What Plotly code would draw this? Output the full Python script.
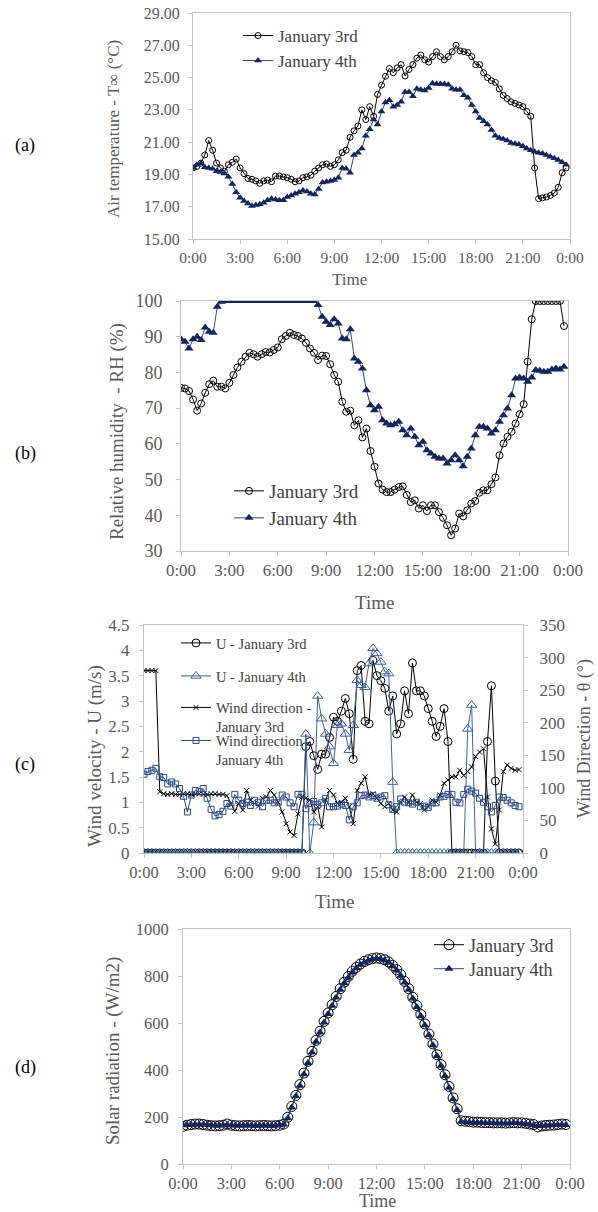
import plotly.graph_objects as go

# ---------------- data (15-minute readings, 0:00 to 23:45) ----------------
hours = [i * 0.25 for i in range(96)]
tick_hours = [0, 3, 6, 9, 12, 15, 18, 21, 24]
tick_text = ["0:00", "3:00", "6:00", "9:00", "12:00", "15:00", "18:00", "21:00", "0:00"]

temp_jan3 = [
    19.4, 19.5, 19.7, 20.2, 21.1, 20.5, 19.7, 19.4, 19.2, 19.6, 19.75, 19.95,
    19.4, 19.05, 18.75, 18.7, 18.6, 18.45, 18.6, 18.65, 18.55, 18.9, 18.9, 18.85,
    18.8, 18.7, 18.55, 18.6, 18.8, 18.85, 18.95, 19.2, 19.4, 19.6, 19.65, 19.5,
    19.6, 19.9, 20.35, 20.5, 21.3, 21.7, 22.0, 23.0, 22.4, 23.2, 22.6, 23.96,
    24.53, 25.08, 25.56, 25.3, 25.6, 25.8, 25.1, 25.5, 25.8, 26.2, 26.4, 26.1,
    25.96, 26.3, 26.6, 26.3, 26.1, 26.3, 26.6, 27.0, 26.65, 26.6, 26.55, 26.3,
    25.8, 25.8, 25.3, 25.0, 24.8, 24.7, 24.3, 23.9, 23.7, 23.5, 23.4, 23.3,
    23.2, 22.9, 22.6, 19.4, 17.5, 17.55, 17.6, 17.7, 17.85, 18.2, 19.1, 19.4]
temp_jan4 = [
    19.4, 19.6, 19.7, 19.45, 19.4, 19.35, 19.2, 19.15, 19.05, 18.85, 18.4, 17.9,
    17.55, 17.35, 17.2, 17.05, 17.1, 17.15, 17.25, 17.4, 17.5, 17.45, 17.4, 17.4,
    17.6, 17.7, 17.8, 17.9, 18.0, 17.95, 17.8, 17.75, 18.1, 18.5, 18.55, 18.6,
    18.65, 18.8, 19.4, 19.35, 19.1, 20.2, 20.35, 20.6, 21.4, 21.8, 22.4, 22.1,
    22.9, 23.45, 23.6, 23.2, 23.3, 23.5, 24.1, 24.1, 23.85, 24.3, 24.25, 24.2,
    24.35, 24.65, 24.6, 24.6, 24.6, 24.55, 24.3, 24.25, 24.25, 23.9, 23.75, 23.3,
    22.9, 22.5, 22.3, 22.1, 21.75, 21.4, 21.25, 21.2, 21.1, 20.95, 20.9, 20.85,
    20.75, 20.6, 20.5, 20.4, 20.35, 20.3, 20.2, 20.1, 20.0, 19.9, 19.75, 19.6]

rh_jan3 = [
    75.7, 75.5, 74.8, 72.4, 69.3, 71.3, 74.3, 76.7, 77.7, 76.0, 76.0, 75.5,
    77.1, 79.3, 81.4, 83.0, 84.4, 85.5, 85.1, 84.4, 85.1, 85.7, 85.6, 86.3,
    87.0, 89.3, 90.2, 91.1, 90.5, 90.2, 89.5, 88.3, 86.7, 85.5, 83.5, 84.7,
    84.6, 82.3, 79.3, 77.4, 71.8, 69.0, 69.3, 65.2, 66.6, 61.8, 64.3, 58.0,
    53.6, 48.9, 47.2, 46.5, 46.5, 47.2, 47.9, 48.1, 45.7, 43.7, 44.2, 41.9,
    42.8, 41.2, 42.8, 42.8, 40.9, 39.3, 37.2, 34.4, 36.3, 40.5, 39.7, 41.4,
    43.3, 44.0, 46.3, 47.0, 47.0, 48.7, 50.6, 56.8, 60.1, 62.0, 63.4, 65.7,
    68.3, 71.1, 83.0, 94.9, 100, 100, 100, 100, 100, 100, 100, 93.0]
rh_jan4 = [
    89.3, 88.6, 86.7, 89.3, 90.0, 89.1, 92.6, 91.4, 91.1, 98.4, 99.8, 100,
    100, 100, 100, 100, 100, 100, 100, 100, 100, 100, 100, 100,
    100, 100, 100, 100, 100, 100, 100, 100, 100, 100, 98.9, 95.6,
    94.2, 93.3, 94.9, 93.7, 89.5, 89.3, 92.1, 83.9, 83.0, 81.1, 75.0, 70.8,
    69.4, 70.4, 66.6, 65.7, 65.2, 65.5, 66.2, 63.8, 62.4, 64.3, 62.0, 59.6,
    60.6, 58.2, 57.3, 56.4, 55.9, 55.9, 54.5, 55.4, 56.8, 55.4, 53.7, 56.4,
    58.7, 62.4, 64.8, 64.8, 64.3, 62.9, 63.8, 66.2, 68.0, 69.9, 73.6, 78.3,
    78.6, 78.3, 77.4, 78.6, 80.7, 80.5, 80.2, 80.2, 80.8, 81.1, 80.8, 81.6]

u_jan3 = [
    0, 0, 0, 0, 0, 0, 0, 0, 0, 0, 0, 0,
    0, 0, 0, 0, 0, 0, 0, 0, 0, 0, 0, 0,
    0, 0, 0, 0, 0, 0, 0, 0, 0, 0, 0, 0,
    0, 0, 0, 0, 0, 2.1, 2.2, 1.92, 1.65, 1.95, 1.95, 2.28,
    2.68, 2.6, 2.8, 3.05, 2.75, 1.85, 3.6, 3.7, 2.6, 2.55, 3.8, 3.5,
    3.4, 3.25, 2.8, 3.1, 2.35, 2.55, 3.2, 2.75, 3.75, 3.2, 3.2, 3.1,
    2.85, 2.6, 2.3, 2.5, 2.85, 2.2, 0, 0, 0, 0, 0, 0,
    0, 0, 0, 2.2, 3.3, 1.42, 0, 0, 0, 0, 0, 0]
u_jan4 = [
    0, 0, 0, 0, 0, 0, 0, 0, 0, 0, 0, 0,
    0, 0, 0, 0, 0, 0, 0, 0, 0, 0, 0, 0,
    0, 0, 0, 0, 0, 0, 0, 0, 0, 0, 0, 0,
    0, 0, 0, 0, 0, 2.35, 0, 0.6, 3.1, 2.65, 2.35, 2.1,
    1.77, 2.52, 2.55, 2.35, 2.03, 2.52, 3.41, 3.31, 3.27, 3.74, 4.04, 3.94,
    3.77, 3.58, 3.54, 1.4, 0, 0, 0, 0, 0, 0, 0, 0,
    0, 0, 0, 0, 0, 0, 0, 0, 0, 0, 2.45, 2.92,
    0, 0, 0, 0, 0, 0, 0, 0, 0, 0, 0, 0]

wd_jan3 = [
    280, 280, 280, 280, 94, 91, 90, 91, 90, 90, 91, 91,
    90, 91, 91, 90, 90, 91, 91, 90, 90, 88, 76, 64,
    76, 66, 96, 81, 76, 72, 84, 86, 96, 89, 78, 63,
    45, 32, 27, 60, 86, 84, 81, 63, 71, 40, 81, 96,
    89, 76, 78, 84, 71, 45, 96, 107, 117, 89, 91, 84,
    76, 71, 76, 66, 63, 78, 86, 78, 89, 78, 76, 66,
    71, 81, 78, 89, 107, 112, 117, 117, 127, 119, 125, 132,
    148, 155, 160, 86, 37, 14, 66, 125, 135, 130, 127, 128]
wd_jan4 = [
    121, 125, 127, 130, 117, 116, 106, 109, 106, 99,
    87, 63, 89, 96, 94, 99, 84, 67, 57, 59,
    64, 76, 72, 90, 81, 76, 78, 73, 81, 78,
    71, 81, 81, 77, 78, 89, 86, 77, 71, 90,
    90, 68, 76, 79, 74, 77, 84, 71, 71, 72,
    75, 73, 51, 71, 77, 88, 89, 86, 88, 84,
    86, 88, 74, 67, 71, 83, 78, 77, 75, 78,
    71, 72, 70, 77, 77, 86, 87, 90, 90, 78,
    77, 90, 98, 95, 92, 84, 78, 71, 63, 73,
    86, 85, 81, 77, 73, 71]

sr_jan3 = [
    160, 165, 168, 170, 170, 168, 165, 163, 162, 163, 165, 170,
    165, 163, 162, 163, 164, 163, 162, 163, 164, 163, 162, 163,
    165, 170, 199, 245, 292, 338, 387, 437, 479, 526, 565, 607,
    643, 678, 713, 746, 774, 798, 820, 837, 851, 862, 869, 874,
    877, 874, 869, 860, 845, 827, 806, 777, 746, 709, 674, 636,
    596, 553, 511, 465, 423, 380, 330, 281, 235, 184, 182, 180,
    178, 178, 177, 176, 176, 175, 175, 175, 174, 175, 176, 175,
    175, 173, 170, 168, 158, 162, 164, 165, 166, 168, 170, 168]
sr_jan4 = [
    165, 166, 167, 168, 168, 167, 166, 165, 164, 164, 165, 166,
    165, 164, 164, 164, 165, 164, 163, 164, 164, 164, 163, 164,
    165, 168, 195, 240, 288, 333, 382, 430, 474, 520, 560, 602,
    638, 673, 708, 741, 769, 793, 815, 833, 848, 859, 866, 871,
    874, 872, 867, 857, 842, 823, 801, 772, 741, 704, 668, 630,
    590, 548, 505, 460, 418, 374, 325, 276, 230, 180, 178, 177,
    176, 175, 175, 174, 174, 173, 173, 173, 172, 173, 174, 173,
    172, 171, 168, 166, 162, 163, 164, 165, 166, 166, 167, 166]

# ---------------- layout constants ----------------
W, H = 598, 1212
FONT = "Liberation Serif, Times New Roman, serif"
GRAY = "#595959"
AXIS = "#c4c4c4"
NAVY = "#13265c"
NAVY_LINE = "#2c4a86"
BLUE = "#3f619f"


def fx(px):
    return px / W


def fy(py):
    return 1 - py / H


# panel plot areas in pixels: left, right, top, bottom
BOX = {
    "a": (193, 570, 13, 239),
    "b": (181, 568, 301, 551),
    "c": (144, 523, 625, 853),
    "d": (183, 570, 929, 1164),
}


def xdom(k):
    return [fx(BOX[k][0]), fx(BOX[k][1])]


def ydom(k):
    return [fy(BOX[k][3]), fy(BOX[k][2])]


def axis_style(size):
    return dict(showline=True, linecolor=AXIS, linewidth=1, mirror=True,
                showgrid=False, zeroline=False, ticks="outside", ticklen=4,
                tickcolor=AXIS, tickwidth=1, automargin=False,
                tickfont=dict(family=FONT, size=size, color=GRAY))


def xaxis_cfg(k, anchor, size):
    d = axis_style(size)
    d.update(domain=xdom(k), anchor=anchor, range=[0, 24],
             tickvals=tick_hours, ticktext=tick_text, ticklabelstandoff=0)
    return d


def inner_ticks(overlay, anchor, side, rng, **kw):
    # second copy of an axis that only draws the inward half of the cross ticks
    d = dict(overlaying=overlay, anchor=anchor, side=side, range=rng,
             ticks="inside", ticklen=4, tickcolor=AXIS, tickwidth=1,
             showticklabels=False, showline=False, showgrid=False,
             zeroline=False, automargin=False)
    d.update(kw)
    return d


fig = go.Figure()

# (a) air temperature
fig.add_trace(go.Scatter(
    x=hours, y=temp_jan3, name="January 3rd", mode="lines+markers",
    xaxis="x", yaxis="y", legend="legend11",
    line=dict(color="black", width=1),
    marker=dict(symbol="circle-open", size=6, color="black", line=dict(width=1))))
fig.add_trace(go.Scatter(
    x=hours, y=temp_jan4, name="January 4th", mode="lines+markers",
    xaxis="x", yaxis="y", legend="legend2",
    line=dict(color=NAVY_LINE, width=1),
    marker=dict(symbol="triangle-up", size=7, color=NAVY)))

# (b) relative humidity
fig.add_trace(go.Scatter(
    x=hours, y=rh_jan3, name="January 3rd", mode="lines+markers",
    xaxis="x2", yaxis="y2", legend="legend3",
    line=dict(color="black", width=1),
    marker=dict(symbol="circle-open", size=7, color="black", line=dict(width=1))))
fig.add_trace(go.Scatter(
    x=hours, y=rh_jan4, name="January 4th", mode="lines+markers",
    xaxis="x2", yaxis="y2", legend="legend4",
    line=dict(color=NAVY_LINE, width=1),
    marker=dict(symbol="triangle-up", size=8, color=NAVY)))

# (c) wind velocity and direction
fig.add_trace(go.Scatter(
    x=hours, y=u_jan3, name="U - January 3rd", mode="lines+markers",
    xaxis="x3", yaxis="y3", legend="legend5",
    line=dict(color="black", width=1),
    marker=dict(symbol="circle-open", size=8, color="black", line=dict(width=1))))
fig.add_trace(go.Scatter(
    x=hours, y=u_jan4, name="U - January 4th", mode="lines+markers",
    xaxis="x3", yaxis="y3", legend="legend6",
    line=dict(color=BLUE, width=1),
    marker=dict(symbol="triangle-up-open", size=9, color=BLUE, line=dict(width=1))))
fig.add_trace(go.Scatter(
    x=hours, y=wd_jan3, name="Wind direction -<br>January 3rd", mode="lines+markers",
    xaxis="x3", yaxis="y5", legend="legend7",
    line=dict(color="black", width=1),
    marker=dict(symbol="x-thin", size=5, color="black", line=dict(width=1, color="black"))))
fig.add_trace(go.Scatter(
    x=hours, y=wd_jan4, name="Wind direction -<br>January 4th", mode="lines+markers",
    xaxis="x3", yaxis="y5", legend="legend8",
    line=dict(color=NAVY_LINE, width=1),
    marker=dict(symbol="square-open", size=6, color=NAVY_LINE, line=dict(width=1))))

# (d) solar radiation
fig.add_trace(go.Scatter(
    x=hours, y=sr_jan3, name="January 3rd", mode="lines+markers",
    xaxis="x4", yaxis="y4", legend="legend9",
    line=dict(color="black", width=1),
    marker=dict(symbol="circle-open", size=10, color="black", line=dict(width=1))))
fig.add_trace(go.Scatter(
    x=hours, y=sr_jan4, name="January 4th", mode="lines+markers",
    xaxis="x4", yaxis="y4", legend="legend10",
    line=dict(color=NAVY_LINE, width=1),
    marker=dict(symbol="triangle-up", size=8, color=NAVY)))

layout = dict(
    width=W, height=H, autosize=False,
    margin=dict(l=0, r=0, t=0, b=0),
    paper_bgcolor="white", plot_bgcolor="white",
    font=dict(family=FONT, color=GRAY),
    showlegend=True,
)

# main axes
layout["xaxis"] = xaxis_cfg("a", "y", 15.5)
ya = axis_style(16)
ya.update(domain=ydom("a"), anchor="x", range=[15, 29], tick0=15, dtick=2,
          tickformat=".2f", ticklabelstandoff=5)
layout["yaxis"] = ya

layout["xaxis2"] = xaxis_cfg("b", "y2", 17)
yb = axis_style(18)
yb.update(domain=ydom("b"), anchor="x2", range=[30, 100], tick0=30, dtick=10,
          ticklabelstandoff=10)
layout["yaxis2"] = yb

layout["xaxis3"] = xaxis_cfg("c", "y3", 16.5)
yc = axis_style(17)
yc.update(domain=ydom("c"), anchor="x3", range=[0, 4.5], tick0=0, dtick=0.5,
          ticklabelstandoff=6)
layout["yaxis3"] = yc
yc2 = axis_style(17)
yc2.update(domain=ydom("c"), anchor="x3", overlaying="y3", side="right",
           range=[0, 350], tick0=0, dtick=50, mirror=False, ticklabelstandoff=8)
layout["yaxis5"] = yc2

layout["xaxis4"] = xaxis_cfg("d", "y4", 16.5)
yd = axis_style(16.5)
yd.update(domain=ydom("d"), anchor="x4", range=[0, 1000], tick0=0, dtick=200,
          ticklabelstandoff=6)
layout["yaxis4"] = yd

# inward halves of the crossing tick marks
layout["xaxis5"] = inner_ticks("x", "y", "bottom", [0, 24], tickvals=tick_hours)
layout["xaxis6"] = inner_ticks("x2", "y2", "bottom", [0, 24], tickvals=tick_hours)
layout["xaxis7"] = inner_ticks("x3", "y3", "bottom", [0, 24], tickvals=tick_hours)
layout["xaxis8"] = inner_ticks("x4", "y4", "bottom", [0, 24], tickvals=tick_hours)
layout["yaxis6"] = inner_ticks("y", "x", "left", [15, 29], tick0=15, dtick=2)
layout["yaxis7"] = inner_ticks("y2", "x2", "left", [30, 100], tick0=30, dtick=10)
layout["yaxis8"] = inner_ticks("y3", "x3", "left", [0, 4.5], tick0=0, dtick=0.5)
layout["yaxis9"] = inner_ticks("y4", "x4", "left", [0, 1000], tick0=0, dtick=200)
layout["yaxis10"] = inner_ticks("y3", "x3", "right", [0, 350], tick0=0, dtick=50)

# legends: one per series, placed where the reference shows them
legend_specs = [
    ("legend11", 278, 36, 17, "middle"),
    ("legend2", 278, 61, 17, "middle"),
    ("legend3", 269, 491, 19, "middle"),
    ("legend4", 269, 518, 19, "middle"),
    ("legend5", 216, 643, 14.5, "middle"),
    ("legend6", 216, 676, 14.5, "middle"),
    ("legend7", 216, 717, 14.5, "top"),
    ("legend8", 216, 750, 14.5, "top"),
    ("legend9", 469, 945, 18, "middle"),
    ("legend10", 469, 969, 18, "middle"),
]
for name, tx, ty, fs, va in legend_specs:
    layout[name] = dict(
        x=fx(tx - 40), y=fy(ty), xanchor="left", yanchor="middle",
        xref="paper", yref="paper", bgcolor="rgba(0,0,0,0)", borderwidth=0,
        font=dict(family=FONT, size=fs, color="#404040"), valign=va,
        itemwidth=30, tracegroupgap=0, visible=True)

fig.update_layout(**layout)

# axis titles and panel labels
ann = []


def text(px, py, s, size, angle=0, color=GRAY):
    ann.append(dict(x=fx(px), y=fy(py), xref="paper", yref="paper", text=s,
                    showarrow=False, textangle=angle, xanchor="center",
                    yanchor="middle", font=dict(family=FONT, size=size, color=color)))


text(114, 129, "Air temperature - T∞ (°C)", 17, -90)
text(349, 279, "Time", 17)
text(117, 432, "Relative humidity  - RH (%)", 19, -90)
text(374, 602, "Time", 19)
text(95, 756, "Wind velocity - U (m/s)", 19, -90)
text(584, 739, "Wind Direction - θ (°)", 18, -90)
text(334, 901, "Time", 19)
text(113, 1051, "Solar radiation - (W/m2)", 19, -90)
text(377, 1201, "Time", 18)
for lbl, py in (("(a)", 146), ("(b)", 453), ("(c)", 764), ("(d)", 1067)):
    text(25, py, lbl, 18, 0, "black")

fig.update_layout(annotations=ann)
fig.write_html("out.html",
               config={"displayModeBar": False, "staticPlot": True},
               post_script="document.body.style.margin='0px';")
